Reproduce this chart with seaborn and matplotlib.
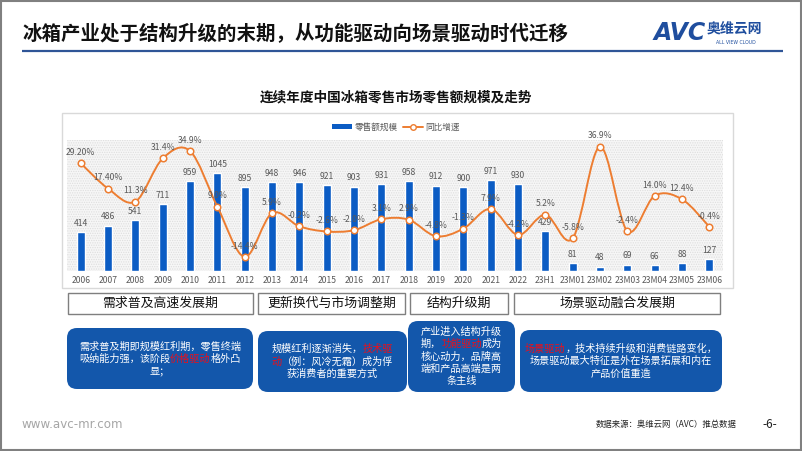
import numpy as np
import matplotlib
matplotlib.use("Agg")
import matplotlib.pyplot as plt
import seaborn as sns
import pandas as pd
from matplotlib.patches import Rectangle, FancyBboxPatch, PathPatch, Patch
from matplotlib.lines import Line2D
from matplotlib.path import Path
from matplotlib.offsetbox import TextArea, HPacker, VPacker, AnnotationBbox

# ---------------- data ----------------
categories = ['2006', '2007', '2008', '2009', '2010', '2011', '2012', '2013', '2014',
              '2015', '2016', '2017', '2018', '2019', '2020', '2021', '2022', '23H1',
              '23M01', '23M02', '23M03', '23M04', '23M05', '23M06']
sales = [414, 486, 541, 711, 959, 1045, 895, 948, 946, 921, 903, 931, 958, 912, 900,
         971, 930, 429, 81, 48, 69, 66, 88, 127]
growth = [29.2, 17.4, 11.3, 31.4, 34.9, 9.0, -14.4, 5.9, -0.2, -2.6, -2.0, 3.1, 2.9,
          -4.8, -1.3, 7.9, -4.2, 5.2, -5.8, 36.9, -2.4, 14.0, 12.4, -0.4]
growth_labels = ['29.20%', '17.40%', '11.3%', '31.4%', '34.9%', '9.0%', '-14.4%', '5.9%',
                 '-0.2%', '-2.6%', '-2.0%', '3.1%', '2.9%', '-4.8%', '-1.3%', '7.9%',
                 '-4.2%', '5.2%', '-5.8%', '36.9%', '-2.4%', '14.0%', '12.4%', '-0.4%']
phases = ['需求普及高速发展期', '更新换代与市场调整期', '结构升级期', '场景驱动融合发展期']
notes = [
    [[('需求普及期即规模红利期，零售终端', 'w')],
     [('吸纳能力强，该阶段', 'w'), ('价格驱动', 'r'), ('格外凸', 'w')],
     [('显；', 'w')]],
    [[('规模红利逐渐消失，', 'w'), ('技术驱', 'r')],
     [('动', 'r'), ('（例：风冷无霜）成为俘', 'w')],
     [('获消费者的重要方式', 'w')]],
    [[('产业进入结构升级', 'w')],
     [('期，', 'w'), ('功能驱动', 'r'), ('成为', 'w')],
     [('核心动力，品牌高', 'w')],
     [('端和产品高端是两', 'w')],
     [('条主线', 'w')]],
    [[('场景驱动', 'r'), ('，技术持续升级和消费链路变化，', 'w')],
     [('场景驱动最大特征是外在场景拓展和内在', 'w')],
     [('产品价值重造', 'w')]],
]

# ---------------- style ----------------
sns.set_theme(style="white")
plt.rcParams['font.family'] = ['Noto Sans CJK SC', 'DejaVu Sans']
plt.rcParams['hatch.linewidth'] = 0.6

W, H = 802, 451
BLUE = '#0b5cc4'
ORANGE = '#ED7D31'
GRAY = '#595959'
BOXBLUE = '#1357ab'
RED = '#e8101c'

fig = plt.figure(figsize=(W / 100, H / 100), dpi=100)
fig.patch.set_facecolor('white')

# overlay axes in pixel coordinates
bg = fig.add_axes([0, 0, 1, 1], zorder=0)
bg.set_xlim(0, W)
bg.set_ylim(H, 0)
bg.axis('off')

# outer frame
bg.add_patch(Rectangle((0.8, 0.8), W - 1.6, H - 1.6, fill=False, ec='#808080', lw=1.5))

# title + underline
bg.text(22, 34, '冰箱产业处于结构升级的末期，从功能驱动向场景驱动时代迁移', fontsize=14,
        fontweight='bold', va='center', ha='left', color='#111111')
bg.plot([22, 783], [50.5, 50.5], color='#2f5597', lw=1.6, solid_capstyle='butt')

# logo
bg.text(680, 33, 'AVC', fontsize=17, fontweight='heavy', color='#1f4e9e', ha='center',
        va='center', family='DejaVu Sans', fontstyle='italic')
bg.text(734, 29, '奥维云网', fontsize=10, fontweight='bold', color='#1f4e9e', ha='center', va='center')
bg.text(736, 42, 'ALL VIEW CLOUD', fontsize=3.3, color='#1f4e9e', ha='center', va='center',
        family='DejaVu Sans')

# chart title
bg.text(396, 97, '连续年度中国冰箱零售市场零售额规模及走势', fontsize=9.8, fontweight='bold',
        ha='center', va='center', color='#111111')

# chart panel
bg.add_patch(Rectangle((62, 113), 671, 175, fill=True, fc='white', ec='#d9d9d9', lw=1.0))

# phase boxes
phase_x = [(68, 253), (258, 405), (410, 508), (514, 720)]
for (x0, x1), lab in zip(phase_x, phases):
    bg.add_patch(Rectangle((x0, 293), x1 - x0, 21, fill=True, fc='white', ec='#7f7f7f', lw=1.0))
    bg.text((x0 + x1) / 2, 303.5, lab, fontsize=9.3, ha='center', va='center', color='#111111')

# blue note boxes
note_boxes = [(67, 328, 253, 389), (258, 331, 407, 392), (408, 321, 515, 392), (520, 330, 722, 392)]
for (x0, y0, x1, y1), lines in zip(note_boxes, notes):
    bg.add_patch(FancyBboxPatch((x0, y0), x1 - x0, y1 - y0,
                                boxstyle='round,pad=0,rounding_size=10',
                                fc=BOXBLUE, ec='none'))
    rows = []
    for line in lines:
        parts = [TextArea(t, textprops=dict(color=('white' if c == 'w' else RED), fontsize=7.3))
                 for t, c in line]
        rows.append(HPacker(children=parts, align='baseline', pad=0, sep=0))
    vp = VPacker(children=rows, align='center', pad=0, sep=1.6)
    ab = AnnotationBbox(vp, ((x0 + x1) / 2, (y0 + y1) / 2), xycoords='data', frameon=False,
                        box_alignment=(0.5, 0.5), pad=0)
    bg.add_artist(ab)

# footer
bg.text(22, 424, 'www.avc-mr.com', fontsize=8.6, color='#a6a6a6', ha='left', va='center',
        family='DejaVu Sans')
bg.text(737, 424, '数据来源：奥维云网（AVC）推总数据', fontsize=6, color='#222222', ha='right', va='center')
bg.text(770, 424, '-6-', fontsize=8.5, color='#222222', ha='center', va='center')

# ---------------- chart ----------------
L, R, T, B = 67, 723, 140, 271
ax = fig.add_axes([L / W, 1 - B / H, (R - L) / W, (B - T) / H], zorder=2)
ax.patch.set_visible(False)
ax.add_patch(Rectangle((0, 0), 1, 1, transform=ax.transAxes, fc='#f6f6f6', ec='#dedede',
                       hatch='.......', lw=0, zorder=0))

df = pd.DataFrame({'cat': categories, 'sales': sales, 'growth': growth})
sns.barplot(data=df, x='cat', y='sales', color=BLUE, width=0.3, saturation=1, ax=ax, zorder=2)
ax.set_xlim(-0.5, len(categories) - 0.5)
ax.set_ylim(0, 1400)
ax.set_xlabel('')
ax.set_ylabel('')
ax.set_yticks([])
ax.set_xticks(range(len(categories)))
ax.set_xticklabels(categories, fontsize=6.2, color=GRAY)
ax.tick_params(axis='x', length=0, pad=3.5)
for s in ax.spines.values():
    s.set_visible(False)
for i, v in enumerate(sales):
    ax.annotate(f'{v}', (i, v), xytext=(0, 3), textcoords='offset points', ha='center',
                va='bottom', fontsize=6.2, color=GRAY, zorder=5)

ax2 = ax.twinx()
ax2.set_ylim(-21, 40)
ax2.set_yticks([])
for s in ax2.spines.values():
    s.set_visible(False)

# smooth curve (Catmull-Rom -> cubic Bezier) through the data points
xs = np.arange(len(growth), dtype=float)
ys = np.array(growth, dtype=float)
P = np.column_stack([xs, ys])
verts = [tuple(P[0])]
codes = [Path.MOVETO]
n = len(P)
for i in range(n - 1):
    p0 = P[i - 1] if i > 0 else P[i]
    p1 = P[i]
    p2 = P[i + 1]
    p3 = P[i + 2] if i + 2 < n else P[i + 1]
    c1 = p1 + (p2 - p0) / 6.0
    c2 = p2 - (p3 - p1) / 6.0
    verts += [tuple(c1), tuple(c2), tuple(p2)]
    codes += [Path.CURVE4] * 3
ax2.add_patch(PathPatch(Path(verts, codes), fc='none', ec=ORANGE, lw=1.4, zorder=3,
                        transform=ax2.transData))
sns.scatterplot(x=xs, y=ys, ax=ax2, s=22, color='white', edgecolor=ORANGE, linewidth=1.1,
                zorder=4, legend=False)
for i, (v, lab) in enumerate(zip(growth, growth_labels)):
    ax2.annotate(lab, (i, v), xytext=(0, 4.5), textcoords='offset points', ha='center',
                 va='bottom', fontsize=6.2, color=GRAY, zorder=6)

handles = [Patch(fc=BLUE, ec='none'),
           Line2D([], [], color=ORANGE, lw=1.4, marker='o', mfc='white', mec=ORANGE, ms=4)]
ax2.legend(handles, ['零售额规模', '同比增速'], loc='center', ncol=2, frameon=False,
           bbox_to_anchor=(396 / W, 1 - 127 / H), bbox_transform=fig.transFigure,
           fontsize=6.2, handlelength=2.3, handleheight=0.5, columnspacing=0.6,
           handletextpad=0.3, labelcolor=GRAY)

fig.savefig('out.png', dpi=100)
